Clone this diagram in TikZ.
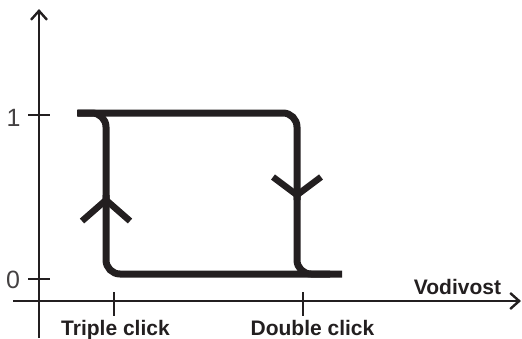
\documentclass[tikz,border=0pt]{standalone}
\usepackage{fontspec}
\setmainfont{Liberation Sans}
\usetikzlibrary{arrows.meta}
\definecolor{ink}{HTML}{231F20}
\tikzset{
  axis/.style={draw=ink, line width=2.4pt},
  axisarrow/.style={axis, -{Straight Barb[length=9pt,width=16pt,line width=2.4pt]}},
  tick/.style={draw=ink, line width=2pt},
  loop/.style={draw=ink, line width=7pt, rounded corners=14pt, line cap=butt},
  chevron/.style={draw=ink, line width=6.5pt, line join=miter},
  axlabel/.style={text=ink, font=\bfseries\fontsize{21}{24}\selectfont, anchor=base, inner sep=0pt},
  numlabel/.style={text=ink!85, font=\fontsize{25}{30}\selectfont, anchor=base, inner sep=0pt}
}
\begin{document}
\begin{tikzpicture}[x=1pt, y=-1pt]
  \useasboundingbox (0,0) rectangle (522,338);

  % axes
  \coordinate (yb) at (39,338);
  \coordinate (yt) at (39,9);
  \coordinate (xl) at (13,301);
  \coordinate (xr) at (521,301);
  \draw[axisarrow] (yb) -- (yt);
  \draw[axisarrow] (xl) -- (xr);

  % ticks on the vertical axis
  \draw[tick] (28,115) coordinate (t1a) -- (50,115) coordinate (t1b);
  \draw[tick] (28,279) coordinate (t0a) -- (50,279) coordinate (t0b);
  \node[numlabel] (one) at (13.5,126.5) {1};
  \node[numlabel] (zero) at (13,288) {0};

  % ticks on the horizontal axis
  \draw[tick] (114,292) coordinate (ta) -- (114,316) coordinate (tb);
  \draw[tick] (303,292) coordinate (da) -- (303,316) coordinate (db);
  \node[axlabel] (triple) at (115.5,335) {Triple click};
  \node[axlabel] (double) at (312.5,335) {Double click};
  \node[axlabel] (vodivost) at (457.5,294) {Vodivost};

  % hysteresis loop
  \draw[loop] (77,113) -- (297,113) -- (297,200);
  \draw[loop] (78,113) -- (106,113) -- (106,200);
  \draw[loop] (106,195) -- (106,274) -- (342,274);
  \draw[loop] (297,195) -- (297,274) -- (330,274);

  % direction marks
  \draw[chevron] (82,221) -- (106,200) -- (130,221);
  \draw[chevron] (273,177) -- (297,195) -- (321,177);
\end{tikzpicture}
\end{document}
